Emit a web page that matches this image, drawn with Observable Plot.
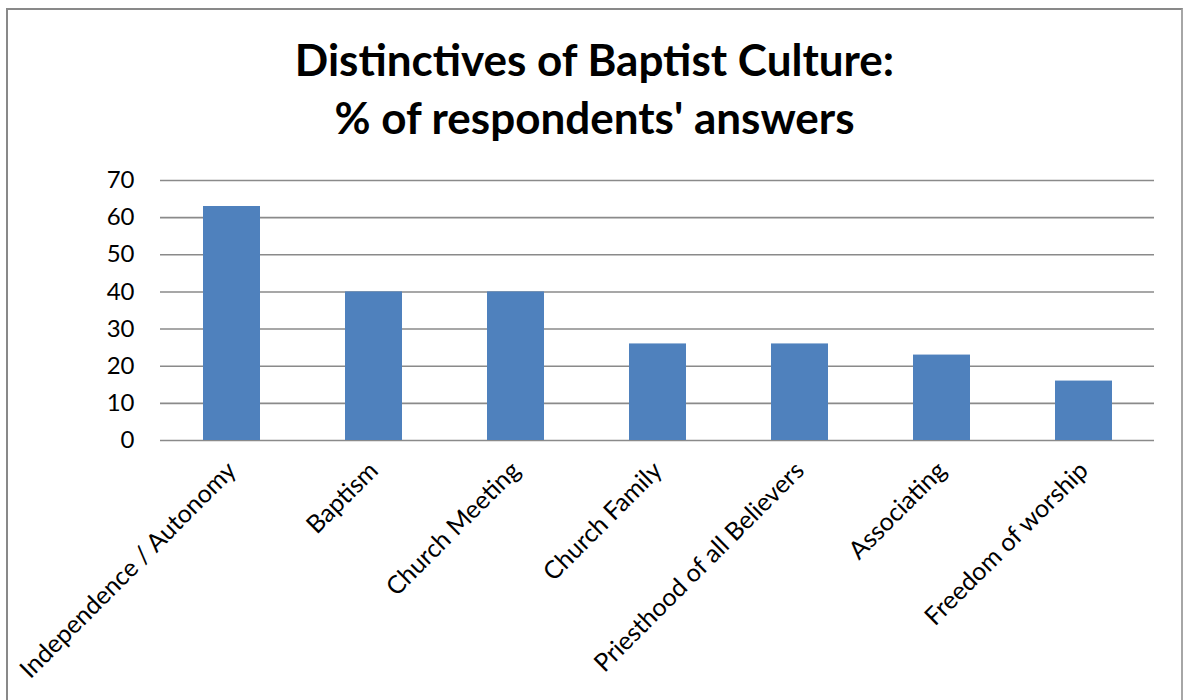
<!DOCTYPE html>
<html>
<head>
<meta charset="utf-8">
<script src="https://cdn.jsdelivr.net/npm/d3@7"></script>
<script src="https://cdn.jsdelivr.net/npm/@observablehq/plot@0.6"></script>
<style>
  body { margin: 0; background: #fff; }
  #wrap { position: relative; width: 1183px; height: 700px; overflow: hidden; }
  #frame { position: absolute; left: 6px; top: 8px; width: 1177px; height: 720px; border: 2px solid #898989; border-right-color: #a6a6a6; box-sizing: border-box; }
  #title { position: absolute; left: 7px; width: 1175px; top: 30px; text-align: center; font-family: Lato, sans-serif; font-weight: bold; font-size: 44px; line-height: 58px; color: #000; }
  #chart { position: absolute; left: 0; top: 160px; }
</style>
</head>
<body>
<div id="wrap">
  <div id="frame"></div>
  <div id="title">Distinctives of Baptist Culture:<br>% of respondents' answers</div>
  <div id="chart"></div>
</div>
<script>
const categories = ["Independence / Autonomy", "Baptism", "Church Meeting", "Church Family", "Priesthood of all Believers", "Associating", "Freedom of worship"];
const values = [63, 40, 40, 26, 26, 23, 16];
const yTicks = [0, 10, 20, 30, 40, 50, 60, 70];

const data = categories.map((c, i) => ({category: c, value: values[i]}));

const chart = Plot.plot({
  width: 1183,
  height: 540,
  marginTop: 20,
  marginBottom: 260,
  marginLeft: 160,
  marginRight: 29,
  style: {fontFamily: "Lato, sans-serif", fontSize: "24px", color: "#000", background: "transparent"},
  x: {domain: categories, paddingInner: 0.6, paddingOuter: 0.3, label: null},
  y: {domain: [0, 70], label: null},
  marks: [
    Plot.ruleY(yTicks, {stroke: "#8a8a8a", strokeWidth: 1.6, strokeOpacity: 1}),
    Plot.barY(data, {x: "category", y: "value", fill: "#4f81bd"}),
    Plot.axisY({ticks: yTicks, tickSize: 0, tickPadding: 26, label: null, line: true, stroke: "#8a8a8a", strokeWidth: 1.6, fill: "#000"}),
    Plot.axisX({tickSize: 0, tickPadding: 26, tickRotate: -45, label: null, fill: "#000", fontSize: 25})
  ]
});
document.getElementById("chart").appendChild(chart);
</script>
</body>
</html>
